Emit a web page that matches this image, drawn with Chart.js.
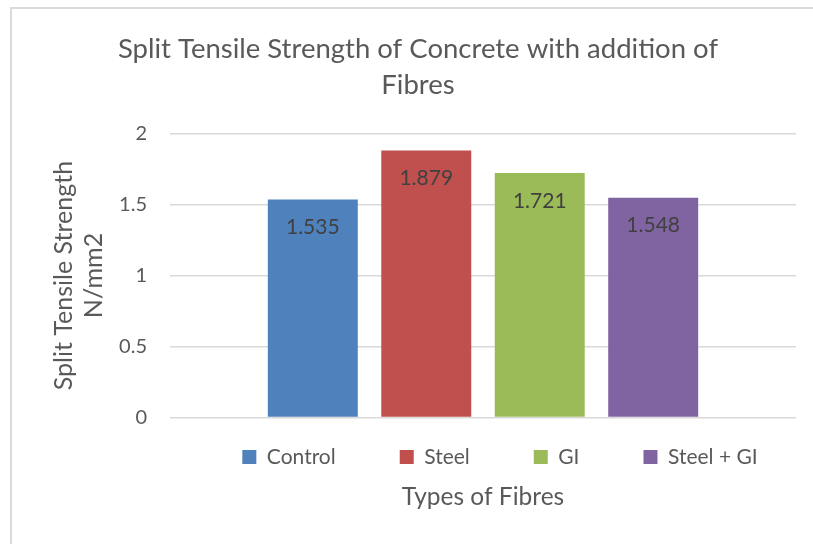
<!DOCTYPE html>
<html>
<head>
<meta charset="utf-8">
<script src="https://cdn.jsdelivr.net/npm/chart.js@4.4.1/dist/chart.umd.min.js"></script>
<style>
  html, body { margin: 0; padding: 0; background: #fff; overflow: hidden; width: 813px; height: 544px; }
  #wrap { position: absolute; left: 0; top: 0; width: 836px; height: 560px; }
  #frame { position: absolute; left: 10px; top: 7px; width: 900px; height: 600px; border: 2px solid #dadada; box-sizing: border-box; }
</style>
</head>
<body>
<div id="frame"></div>
<div id="wrap"><canvas id="chart" width="836" height="560"></canvas></div>
<script>
// données
const categories = ['Control', 'Steel', 'GI', 'Steel + GI'];
const strengthValues = [1.535, 1.879, 1.721, 1.548];
const barColors = ['#4f81bd', '#c0504d', '#9bbb59', '#8064a2'];
const yTicks = [0, 0.5, 1, 1.5, 2];

const FONT = 'Lato';
const TEXT_GREY = '#595959';

// valeurs écrites en haut de chaque barre
const barValueLabels = {
  id: 'barValueLabels',
  afterDatasetsDraw(chart) {
    const ctx = chart.ctx;
    ctx.save();
    ctx.font = '21px ' + FONT;
    ctx.fillStyle = '#404040';
    ctx.textAlign = 'center';
    ctx.textBaseline = 'middle';
    chart.data.datasets.forEach((ds, i) => {
      const bar = chart.getDatasetMeta(i).data[0];
      ctx.fillText(String(ds.data[0]), bar.x, bar.y + 28);
    });
    ctx.restore();
  }
};

// la légende Excel est centrée plus à droite et plus serrée que celle de Chart.js
const moveLegend = {
  id: 'moveLegend',
  afterLayout(chart) {
    const lg = chart.legend;
    lg.left += 82;
    lg.right += 82;
    lg.top -= 35;
    lg.bottom -= 35;
  }
};

const ctx = document.getElementById('chart').getContext('2d');
new Chart(ctx, {
  type: 'bar',
  data: {
    labels: [''],
    datasets: categories.map((name, i) => ({
      label: name,
      data: [strengthValues[i]],
      backgroundColor: barColors[i],
      categoryPercentage: 0.725,
      barPercentage: 0.793
    }))
  },
  options: {
    responsive: false,
    animation: false,
    layout: { padding: { left: 40, right: 40, top: 0, bottom: 0 } },
    plugins: {
      tooltip: { enabled: false },
      title: {
        display: true,
        text: ['Split Tensile Strength of Concrete with addition of', 'Fibres'],
        color: TEXT_GREY,
        font: { family: FONT, size: 27.5, weight: 'normal', lineHeight: 1.28 },
        padding: { top: 32, bottom: 31 }
      },
      legend: {
        position: 'bottom',
        labels: {
          color: TEXT_GREY,
          font: { family: FONT, size: 21 },
          boxWidth: 14,
          boxHeight: 14,
          padding: 64
        }
      },
      subtitle: {
        display: true,
        position: 'bottom',
        fullSize: false,
        text: 'Types of Fibres',
        color: TEXT_GREY,
        font: { family: FONT, size: 24.5, weight: 'normal', lineHeight: 1.2 },
        padding: { top: -30, bottom: 48 }
      }
    },
    scales: {
      x: { display: false },
      y: {
        min: 0,
        max: 2,
        afterBuildTicks: scale => { scale.ticks = yTicks.map(v => ({ value: v })); },
        afterFit: scale => { scale.width = 130; },
        ticks: {
          color: TEXT_GREY,
          font: { family: FONT, size: 20 },
          padding: 23,
          callback: v => String(v)
        },
        grid: { color: '#d9d9d9', lineWidth: 1.5, drawTicks: false },
        border: { display: false },
        title: {
          display: true,
          text: ['Split Tensile Strength', 'N/mm2'],
          color: TEXT_GREY,
          font: { family: FONT, size: 25, weight: 'normal', lineHeight: 1.2 },
          padding: { top: 9, bottom: 0 }
        }
      }
    }
  },
  plugins: [barValueLabels, moveLegend]
});
</script>
</body>
</html>
